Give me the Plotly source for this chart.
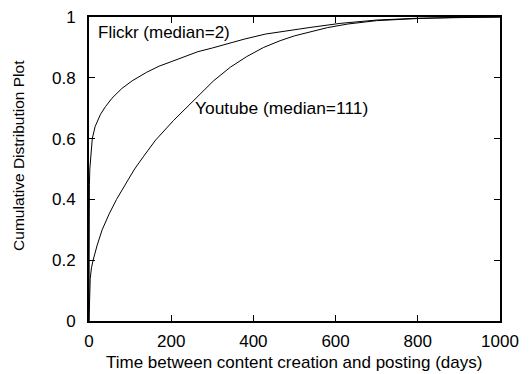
import plotly.graph_objects as go

flickr_days = [0, 0, 1, 2, 4, 8, 15, 28, 40, 56, 80, 105, 140, 170, 200, 230, 265, 300, 340, 380, 430, 480, 540, 611, 700, 800, 900, 1000]
flickr_cdf = [0, 0.35, 0.45, 0.5, 0.54, 0.6, 0.64, 0.68, 0.705, 0.733, 0.765, 0.79, 0.818, 0.838, 0.853, 0.868, 0.886, 0.898, 0.914, 0.928, 0.944, 0.955, 0.966, 0.979, 0.99, 0.996, 0.999, 1.0]

youtube_days = [0, 1, 3, 6, 10, 20, 32, 50, 67, 95, 111, 133, 162, 206, 255, 303, 344, 384, 425, 465, 500, 540, 580, 630, 700, 800, 900, 1000]
youtube_cdf = [0, 0.09, 0.14, 0.175, 0.2, 0.25, 0.30, 0.355, 0.40, 0.464, 0.5, 0.542, 0.595, 0.66, 0.727, 0.79, 0.835, 0.87, 0.9, 0.922, 0.938, 0.952, 0.965, 0.977, 0.988, 0.995, 0.999, 1.0]

x_ticks = [0, 200, 400, 600, 800, 1000]
y_ticks = [0, 0.2, 0.4, 0.6, 0.8, 1]
y_tick_text = ["0", "0.2", "0.4", "0.6", "0.8", "1"]

FONT = "Liberation Sans, Arial, sans-serif"

fig = go.Figure()
fig.add_trace(go.Scatter(x=flickr_days, y=flickr_cdf, mode="lines",
                         line=dict(color="black", width=1), showlegend=False))
fig.add_trace(go.Scatter(x=youtube_days, y=youtube_cdf, mode="lines",
                         line=dict(color="black", width=1), showlegend=False))

fig.add_annotation(x=18, y=0.949, xref="x", yref="y", text="Flickr (median=2)",
                   showarrow=False, xanchor="left", yanchor="middle",
                   font=dict(family=FONT, size=17, color="black"))
fig.add_annotation(x=252, y=0.702, xref="x", yref="y", text="Youtube (median=111)",
                   showarrow=False, xanchor="left", yanchor="middle",
                   font=dict(family=FONT, size=17.4, color="black"))

# axis titles as annotations
fig.add_annotation(x=0.499, y=-0.135, xref="paper", yref="paper",
                   text="Time between content creation and posting (days)",
                   showarrow=False, xanchor="center", yanchor="middle",
                   font=dict(family=FONT, size=17, color="black"))
fig.add_annotation(x=-0.173, y=0.546, xref="paper", yref="paper",
                   text="Cumulative Distribution Plot", textangle=-90,
                   showarrow=False, xanchor="center", yanchor="middle",
                   font=dict(family=FONT, size=15.5, color="black"))

fig.update_xaxes(range=[0, 1000], tickvals=x_ticks, ticks="inside", ticklen=6,
                 tickcolor="black", showline=True, linecolor="black", linewidth=2,
                 mirror="allticks", showgrid=False, zeroline=False, automargin=False,
                 ticklabelstandoff=4, ticklabeloverflow="allow",
                 tickfont=dict(family=FONT, size=17, color="black"))
fig.update_yaxes(range=[0, 1], tickvals=y_ticks, ticktext=y_tick_text, ticks="inside",
                 ticklen=6, tickcolor="black", showline=True, linecolor="black",
                 linewidth=2, mirror="allticks", showgrid=False, zeroline=False,
                 automargin=False, ticklabelstandoff=8, ticklabeloverflow="allow",
                 tickfont=dict(family=FONT, size=17, color="black"))

fig.update_layout(width=524, height=366, margin=dict(l=80.5, r=32, t=9, b=53),
                  plot_bgcolor="white", paper_bgcolor="white",
                  font=dict(family=FONT, size=17, color="black"))

fig.write_html("out.html")
